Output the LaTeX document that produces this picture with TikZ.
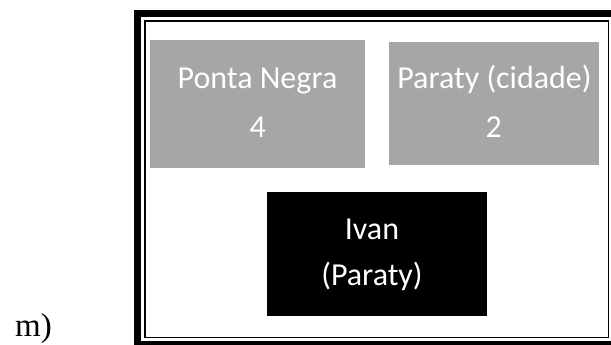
\documentclass[tikz,border=0pt]{standalone}
\usepackage{fontspec}
\setmainfont{Carlito}
\newfontfamily\serifm{Liberation Serif}
\definecolor{boxgray}{HTML}{A6A6A6}
\begin{document}
\begin{tikzpicture}[x=1pt,y=-1pt,
  gbox/.style={fill=boxgray, draw=none, inner sep=0pt, outer sep=0pt},
  bbox/.style={fill=black, draw=none, inner sep=0pt, outer sep=0pt},
  lbl/.style={text=white, font=\fontsize{32}{38}\selectfont, anchor=base, inner sep=0pt}]
\useasboundingbox (0,0) rectangle (611,345);
\begin{scope}
  \clip (0,0) rectangle (611,345);
  \draw[line width=7pt] (137.5,13.5) rectangle (615.5,344.5);
\end{scope}
\draw[line width=1.5pt] (145,21) rectangle (608.5,337.3);
% boxes
\node[gbox, minimum width=215pt, minimum height=128pt] (pn) at (257.5,104) {};
\node[gbox, minimum width=210pt, minimum height=123pt] (pc) at (494,103.5) {};
\node[bbox, minimum width=220pt, minimum height=124pt] (iv) at (377,254) {};
% texts
\node[lbl] (pnA) at (257.5,88.3) {Ponta Negra};
\node[lbl] (pnB) at (257.8,137) {4};
\node[lbl] (pcA) at (494.5,88.3) {Paraty (cidade)};
\node[lbl] (pcB) at (493.8,137) {2};
\node[lbl] (ivA) at (372,239.3) {Ivan};
\node[lbl] (ivB) at (372,285.5) {(Paraty)};
\node[font=\serifm\fontsize{33}{38}\selectfont, anchor=base west, inner sep=0pt] (m) at (15,336.5) {m)};
\end{tikzpicture}
\end{document}
